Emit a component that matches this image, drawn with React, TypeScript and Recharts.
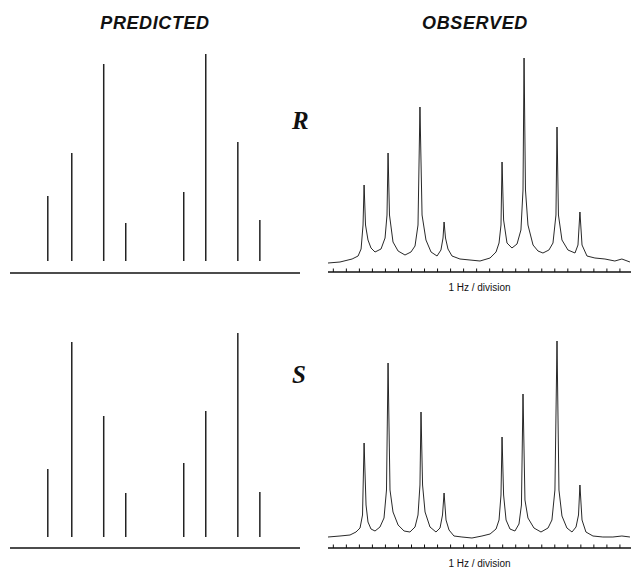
import { BarChart, Bar, LineChart, Line, XAxis, YAxis, ReferenceLine } from "recharts";

// predicted line positions (Hz) shared by both isomers
const predictedHz = [2.36, 4.2, 6.65, 8.34, 12.79, 14.48, 16.94, 18.63];
const predictedR = [65, 108, 197, 38, 69, 207, 119, 41];
const predictedS = [68, 195, 121, 44, 74, 126, 204, 45];

// observed traces, [Hz, intensity]
const observedR: [number, number][] = [
  [-0.41, 9], [0.51, 10], [1.44, 13], [1.9, 16], [2.13, 23], [2.28, 47], [2.36, 87], [2.47, 47],
  [2.66, 32], [2.89, 24], [3.2, 20], [3.66, 23], [3.97, 34], [4.12, 57], [4.2, 119], [4.31, 57],
  [4.58, 30], [4.97, 21], [5.5, 17], [5.96, 20], [6.27, 26], [6.5, 47], [6.65, 165], [6.81, 57],
  [7.11, 32], [7.5, 20], [7.96, 16], [8.26, 22], [8.42, 34], [8.5, 50], [8.61, 34], [8.8, 23],
  [9.11, 16], [9.72, 13], [10.49, 12], [11.26, 11], [12.03, 14], [12.49, 20], [12.72, 29], [12.87, 47],
  [12.95, 110], [13.07, 52], [13.33, 29], [13.71, 24], [14.1, 28], [14.4, 42], [14.56, 82], [14.64, 214],
  [14.75, 82], [14.94, 47], [15.33, 27], [15.71, 21], [16.09, 19], [16.55, 22], [16.86, 29], [17.09, 57],
  [17.17, 145], [17.28, 57], [17.55, 32], [18.01, 22], [18.55, 19], [18.78, 27], [18.93, 60], [19.09, 27],
  [19.47, 16], [20.08, 14], [20.85, 13], [21.61, 11], [22.15, 13], [22.77, 10],
];

const observedS: [number, number][] = [
  [-0.41, 11], [0.51, 12], [1.28, 13], [1.74, 16], [2.05, 20], [2.24, 33], [2.36, 105], [2.51, 43],
  [2.66, 26], [2.89, 19], [3.2, 17], [3.58, 21], [3.89, 30], [4.08, 58], [4.2, 185], [4.35, 58],
  [4.58, 36], [4.97, 23], [5.43, 17], [5.88, 16], [6.27, 21], [6.5, 33], [6.65, 63], [6.73, 136],
  [6.85, 63], [7.04, 36], [7.42, 21], [7.88, 16], [8.19, 20], [8.38, 33], [8.5, 55], [8.65, 28],
  [8.88, 18], [9.26, 12], [9.87, 11], [10.64, 10], [11.41, 12], [12.03, 14], [12.49, 19], [12.72, 28],
  [12.87, 53], [12.95, 111], [13.07, 53], [13.26, 28], [13.56, 19], [13.94, 17], [14.25, 24], [14.44, 43],
  [14.56, 154], [14.71, 48], [14.94, 30], [15.4, 20], [15.94, 16], [16.48, 20], [16.78, 28], [17.01, 58],
  [17.17, 207], [17.32, 58], [17.55, 32], [17.93, 20], [18.32, 16], [18.63, 21], [18.82, 33], [18.93, 63],
  [19.09, 28], [19.39, 16], [19.93, 12], [20.69, 11], [21.46, 11], [22.15, 12], [22.77, 11],
];

const hzTicks = [0, 1, 2, 3, 4, 5, 6, 7, 8, 9, 10, 11, 12, 13, 14, 15, 16, 17, 18, 19, 20, 21, 22];

const ink = "#111";
const tickLen = 3.5; // in intensity units (1 unit = 1px here)

function Predicted({ heights, top, yMin }: { heights: number[]; top: number; yMin: number }) {
  const data = predictedHz.map((hz, i) => ({ hz, h: heights[i] }));
  return (
    <div style={{ position: "absolute", left: 0, top }}>
      <BarChart width={310} height={275} data={data} margin={{ top: 51, right: 10, bottom: 0, left: 10 }}>
        <XAxis
          dataKey="hz"
          type="number"
          domain={[-0.56, 21.69]}
          allowDataOverflow
          tick={false}
          tickLine={false}
          height={2}
          axisLine={{ stroke: ink, strokeWidth: 1.5 }}
        />
        <YAxis hide domain={[yMin, 222 + yMin]} allowDataOverflow />
        <Bar dataKey="h" barSize={1.5} fill="#222" isAnimationActive={false} />
      </BarChart>
    </div>
  );
}

function Observed({ trace, top }: { trace: [number, number][]; top: number }) {
  const data = trace.map(([hz, v]) => ({ hz, v }));
  return (
    <div style={{ position: "absolute", left: 318, top }}>
      <LineChart width={313} height={298} data={data} margin={{ top: 50, right: 0, bottom: 0, left: 10 }}>
        <XAxis
          dataKey="hz"
          type="number"
          domain={[-0.41, 22.85]}
          allowDataOverflow
          ticks={hzTicks}
          tick={false}
          tickLine={false}
          height={26}
          axisLine={{ stroke: ink, strokeWidth: 1.5 }}
          label={{
            value: "1 Hz / division",
            position: "insideBottom",
            offset: 7,
            fontSize: 10,
            fill: ink,
            fontFamily: "Liberation Sans, Arial, sans-serif",
          }}
        />
        <YAxis hide domain={[0, 222]} allowDataOverflow />
        {hzTicks.map((t) => (
          <ReferenceLine
            key={t}
            segment={[{ x: t, y: 0 }, { x: t, y: tickLen }]}
            stroke={ink}
            strokeWidth={1}
          />
        ))}
        <Line type="linear" dataKey="v" stroke={ink} strokeWidth={0.9} dot={false} isAnimationActive={false} />
      </LineChart>
    </div>
  );
}

const titleStyle = {
  position: "absolute" as const,
  top: 14,
  width: 160,
  textAlign: "center" as const,
  fontFamily: "Liberation Sans, Arial, sans-serif",
  fontStyle: "italic",
  fontWeight: "bold",
  fontSize: 18,
  lineHeight: "18px",
  letterSpacing: 0.6,
  color: ink,
};

const isomerStyle = {
  position: "absolute" as const,
  left: 292,
  fontFamily: "Liberation Serif, Times New Roman, serif",
  fontStyle: "italic",
  fontWeight: "bold",
  fontSize: 25,
  lineHeight: "25px",
  color: ink,
};

export default function App() {
  return (
    <div style={{ position: "absolute", left: 0, top: 0, width: 631, height: 568, background: "#fff", overflow: "hidden" }}>
      <div style={{ ...titleStyle, left: 75 }}>PREDICTED</div>
      <div style={{ ...titleStyle, left: 395 }}>OBSERVED</div>
      <div style={{ ...isomerStyle, top: 108 }}>R</div>
      <div style={{ ...isomerStyle, top: 362 }}>S</div>
      <Predicted heights={predictedR} top={0} yMin={-12} />
      <Predicted heights={predictedS} top={275} yMin={-11} />
      <Observed trace={observedR} top={0} />
      <Observed trace={observedS} top={276} />
    </div>
  );
}
